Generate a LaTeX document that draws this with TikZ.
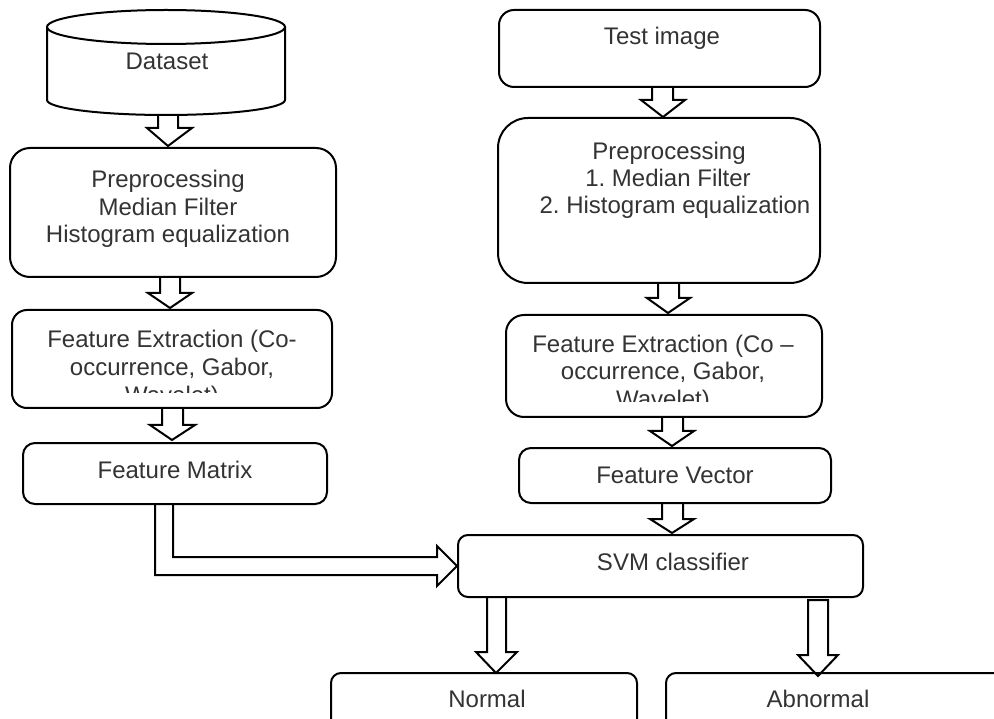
\documentclass[tikz,border=0pt]{standalone}
\usepackage{fontspec}
\setmainfont{Liberation Sans}
\definecolor{txtc}{HTML}{333333}
\frenchspacing
\begin{document}
\begin{tikzpicture}[x=1pt,y=-1pt,
  box/.style={draw=black, line width=2pt, inner sep=0pt, outer sep=0pt},
  txt/.style={anchor=base, inner sep=0pt, text=txtc, font=\fontsize{24}{27.5}\selectfont\frenchspacing},
  barrow/.style={draw=black, line width=2pt, line join=miter}]
\clip (0,0) rectangle (994,719);
\fill[white] (0,0) rectangle (994,719);
% ---------- cylinder (Dataset)
\draw[line width=2pt] (166,27) ellipse [x radius=119, y radius=17];
\draw[line width=2pt] (47,27) -- (47,100) arc[start angle=180, end angle=0, x radius=119, y radius=15] -- (285,27);
\node[txt] (dataset) at (167,70) {Dataset};
% ---------- boxes
\node[box, rounded corners=20pt, minimum width=326pt, minimum height=129pt] (lpre) at (173,212.5) {};
\node[box, rounded corners=15pt, minimum width=320pt, minimum height=98pt] (lfe) at (172,359) {};
\node[box, rounded corners=12pt, minimum width=304pt, minimum height=61pt] (fm) at (175,473.5) {};
\node[box, rounded corners=15pt, minimum width=321pt, minimum height=77pt] (ti) at (659.5,48.5) {};
\node[box, rounded corners=30pt, minimum width=322pt, minimum height=165pt] (rpre) at (659,200.5) {};
\node[box, rounded corners=18pt, minimum width=316pt, minimum height=102pt] (rfe) at (664,366) {};
\node[box, rounded corners=12pt, minimum width=312pt, minimum height=55pt] (fv) at (675,475.5) {};
\node[box, rounded corners=10pt, minimum width=405pt, minimum height=62pt] (svm) at (660.5,566) {};
\node[box, rounded corners=10pt, minimum width=306pt, minimum height=67pt] (normal) at (484,706.5) {};
\node[box, rounded corners=10pt, minimum width=344pt, minimum height=67pt] (abnormal) at (838,706.5) {};
% ---------- texts
\node[txt] (lpre1) at (168,188) {Preprocessing};
\node[txt] (lpre2) at (168,215.5) {Median Filter};
\node[txt] (lpre3) at (168,243) {Histogram equalization};
\node[txt] (lfe1) at (172,348) {Feature Extraction (Co-};
\node[txt] (lfe2) at (172,376) {occurrence, Gabor,};
\begin{scope}
  \clip (0,380) rectangle (400,393);
  \node[txt] (lfe3) at (172,404) {Wavelet)};
\end{scope}
\node[txt] (fmt) at (175,478) {Feature Matrix};
\node[txt] (tit) at (662,45) {Test image};
\node[txt] (rpre1) at (669,160) {Preprocessing};
\node[txt] (rpre2) at (668,187) {1. Median Filter};
\node[txt] (rpre3) at (675,214) {2. Histogram equalization};
\node[txt] (rfe1) at (663,353) {Feature Extraction (Co –};
\node[txt] (rfe2) at (663,380) {occurrence, Gabor,};
\begin{scope}
  \clip (480,385) rectangle (850,402);
  \node[txt] (rfe3) at (663,407) {Wavelet)};
\end{scope}
\node[txt] (fvt) at (675,483) {Feature Vector};
\node[txt] (svmt) at (673,570) {SVM classifier};
\node[txt] (normt) at (487,707) {Normal};
\node[txt] (abnt) at (818,707) {Abnormal};
% ---------- block arrows
% left column
\draw[barrow] (158,115) -- (158,128) -- (147,128) -- (168,146) -- (192,128) -- (178,128) -- (178,115);
\draw[barrow] (160,277) -- (160,293) -- (148,293) -- (170,308) -- (192,293) -- (180,293) -- (180,277);
\draw[barrow] (162,408) -- (162,425) -- (150,425) -- (172,440) -- (195,425) -- (183,425) -- (183,408);
% bent arrow Feature Matrix -> SVM
\draw[barrow] (155,504) -- (155,575) -- (437,575) -- (437,586) -- (457,566) -- (437,546) -- (437,557) -- (173,557) -- (173,504);
% right column
\draw[barrow] (652,87) -- (652,100) -- (641,100) -- (663,117) -- (685,100) -- (673,100) -- (673,87);
\draw[barrow] (658,283) -- (658,298) -- (647,298) -- (668,313) -- (690,298) -- (679,298) -- (679,283);
\draw[barrow] (662,417) -- (662,431) -- (650,431) -- (672,446) -- (694,431) -- (683,431) -- (683,417);
\draw[barrow] (662,503) -- (662,519) -- (650,519) -- (672,533) -- (694,519) -- (683,519) -- (683,503);
% outputs
\draw[barrow] (487,597) -- (487,652) -- (476,652) -- (496,673) -- (517,652) -- (506,652) -- (506,597);
\draw[barrow] (808,600) -- (808,655) -- (798,655) -- (818,676) -- (838,655) -- (828,655) -- (828,600) -- cycle;
\end{tikzpicture}
\end{document}
